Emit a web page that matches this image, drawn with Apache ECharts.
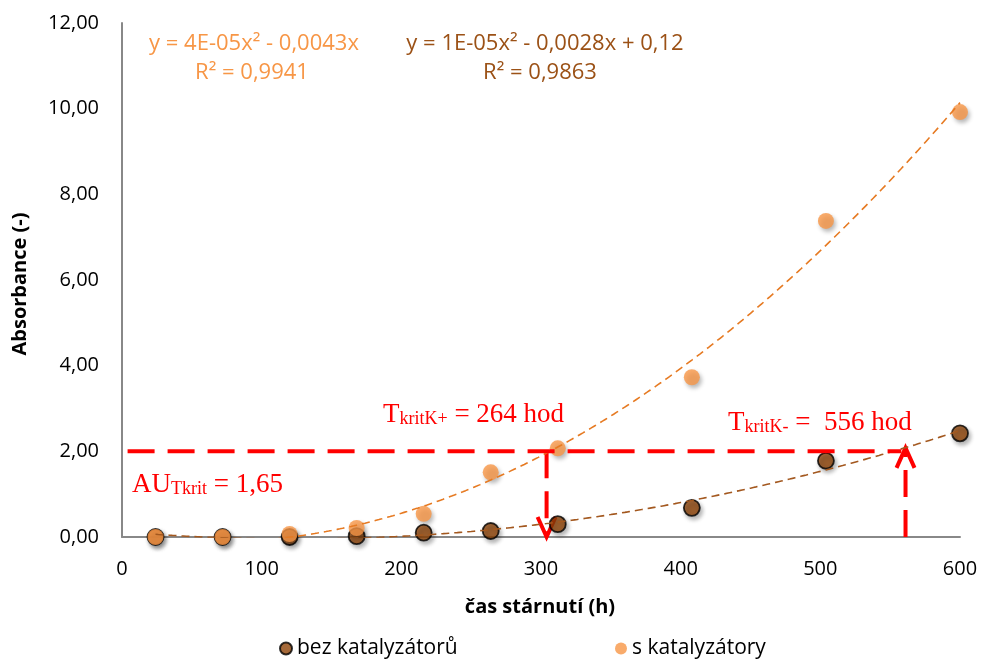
<!DOCTYPE html>
<html>
<head>
<meta charset="utf-8">
<script src="https://cdn.jsdelivr.net/npm/echarts@6/dist/echarts.min.js"></script>
<style>
html, body { margin: 0; padding: 0; background: #ffffff; }
#chart { width: 981px; height: 664px; }
</style>
</head>
<body>
<div id="chart"></div>
<script>
// Ageing time (h) at which absorbance was measured
const hours = [24, 72, 120, 168, 216, 264, 312, 408, 504, 600];
// Absorbance without catalysts
const absWithout = [0, 0, 0, 0.02, 0.10, 0.14, 0.30, 0.68, 1.78, 2.42];
// Absorbance with catalysts
const absWith = [0, 0, 0.07, 0.21, 0.54, 1.51, 2.07, 3.73, 7.38, 9.92];

const seriesNames = ['bez katalyzátorů', 's katalyzátory'];
const xTickRange = [0, 600, 100];
const yTickRange = [0, 12, 2];

// Critical absorbance guide: level, start of the guide line (h),
// and the ageing times marked by the arrows (h)
const criticalLevel = 2.0;
const criticalLineStart = 4;
const criticalLineEnd = 558;
const arrowTimeWith = 304;
const arrowTimeWithout = 561;

const eqWith = ['y = 4E-05x² - 0,0043x', 'R² = 0,9941'];
const eqWithout = ['y = 1E-05x² - 0,0028x + 0,12', 'R² = 0,9863'];

// ---- least-squares polynomial trendlines ----
function solve(A, b) {
  const n = b.length;
  const M = A.map((row, i) => row.concat([b[i]]));
  for (let c = 0; c < n; c++) {
    let p = c;
    for (let r = c + 1; r < n; r++) if (Math.abs(M[r][c]) > Math.abs(M[p][c])) p = r;
    [M[c], M[p]] = [M[p], M[c]];
    for (let r = 0; r < n; r++) {
      if (r === c) continue;
      const f = M[r][c] / M[c][c];
      for (let k = c; k <= n; k++) M[r][k] -= f * M[c][k];
    }
  }
  return M.map((row, i) => row[n] / row[i]);
}
// returns [a, b, c] for y = a x^2 + b x + c
function fitQuadratic(xs, ys, withIntercept) {
  const powers = withIntercept ? [2, 1, 0] : [2, 1];
  const A = powers.map(p => powers.map(q => xs.reduce((s, x) => s + Math.pow(x, p + q), 0)));
  const b = powers.map(p => xs.reduce((s, x, i) => s + Math.pow(x, p) * ys[i], 0));
  const sol = solve(A, b);
  return withIntercept ? sol : [sol[0], sol[1], 0];
}
const fitWith = fitQuadratic(hours, absWith, false);
const fitWithout = fitQuadratic(hours, absWithout, true);
const polyAt = (c, x) => c[0] * x * x + c[1] * x + c[2];
function curve(c) {
  const pts = [];
  for (let x = hours[0]; x <= hours[hours.length - 1]; x += 2) pts.push([x, polyAt(c, x)]);
  return pts;
}

const fmt = v => v.toFixed(2).replace('.', ',');
const RED = '#FF0000';
const DARK = '#8E4308';
const LIGHT = '#F79646';

function renderArrow(params, api) {
  const p0 = api.coord([api.value(0), api.value(1)]);
  const p1 = api.coord([api.value(0), api.value(2)]);
  const dir = p1[1] > p0[1] ? 1 : -1;
  const base = { stroke: RED, lineWidth: 4, fill: null };
  return {
    type: 'group',
    children: [
      { type: 'line', shape: { x1: p0[0], y1: p0[1], x2: p1[0], y2: p1[1] },
        style: Object.assign({}, base, { lineDash: [27, 13] }) },
      { type: 'polyline',
        shape: { points: [[p1[0] - 9, p1[1] - dir * 20], [p1[0], p1[1]], [p1[0] + 9, p1[1] - dir * 20]] },
        style: base }
    ]
  };
}

const markerShadow = { shadowBlur: 4, shadowOffsetX: 2, shadowOffsetY: 3, shadowColor: 'rgba(0,0,0,0.35)' };
const axisLabelFont = { fontFamily: 'Open Sans', fontSize: 20, color: '#000' };
const serifRich = {
  m: { fontFamily: 'Liberation Serif', fontSize: 27, lineHeight: 31, verticalAlign: 'bottom', fill: RED, color: RED },
  s: { fontFamily: 'Liberation Serif', fontSize: 18, lineHeight: 18, verticalAlign: 'bottom', fill: RED, color: RED }
};
const eqFont = { fontFamily: 'Open Sans', fontSize: 22, align: 'center', verticalAlign: 'middle' };
const titleFont = { fontFamily: 'Open Sans', fontWeight: 'bold', fontSize: 20, fill: '#000', align: 'center', verticalAlign: 'middle' };
const legendText = { fontFamily: 'Open Sans', fontSize: 21, color: '#000' };

const chart = echarts.init(document.getElementById('chart'), null, { renderer: 'canvas' });
chart.setOption({
  animation: false,
  backgroundColor: '#ffffff',
  grid: { left: 122, right: 21, top: 23, bottom: 127 },
  xAxis: {
    type: 'value', min: xTickRange[0], max: xTickRange[1], interval: xTickRange[2],
    axisLine: { show: true, lineStyle: { color: '#888888', width: 2 } },
    axisTick: { show: false }, splitLine: { show: false },
    axisLabel: Object.assign({ margin: 22 }, axisLabelFont)
  },
  yAxis: {
    type: 'value', min: yTickRange[0], max: yTickRange[1], interval: yTickRange[2],
    axisLine: { show: true, lineStyle: { color: '#888888', width: 2 } },
    axisTick: { show: false }, splitLine: { show: false },
    axisLabel: Object.assign({ margin: 23, formatter: fmt }, axisLabelFont)
  },
  legend: [
    { data: [seriesNames[0]], left: 279, top: 638, itemWidth: 12, itemHeight: 12, padding: 0, textStyle: legendText },
    { data: [seriesNames[1]], left: 615, top: 638, itemWidth: 12, itemHeight: 12, padding: 0, textStyle: legendText }
  ],
  series: [
    { name: seriesNames[0], type: 'scatter', symbol: 'circle', symbolSize: 16,
      data: hours.map((h, i) => [h, absWithout[i]]),
      itemStyle: Object.assign({ color: DARK, borderColor: '#000', borderWidth: 1.8 }, markerShadow) },
    { name: seriesNames[1], type: 'scatter', symbol: 'circle', symbolSize: 16,
      data: hours.map((h, i) => [h, absWith[i]]),
      itemStyle: Object.assign({ color: LIGHT }, markerShadow) },
    { type: 'line', data: curve(fitWithout), showSymbol: false, symbol: 'none', clip: true,
      lineStyle: { color: '#A3581F', width: 1.6, type: [8, 5] } },
    { type: 'line', data: curve(fitWith), showSymbol: false, symbol: 'none', clip: true,
      lineStyle: { color: '#E67A22', width: 1.6, type: [8, 5] } },
    { type: 'line', data: [[criticalLineStart, criticalLevel], [criticalLineEnd, criticalLevel]],
      symbol: 'none', lineStyle: { color: RED, width: 4, type: [27, 13] } },
    { type: 'custom', renderItem: renderArrow, clip: false,
      data: [[arrowTimeWith, criticalLevel, 0], [arrowTimeWithout, 0, criticalLevel + 0.08]] }
  ],
  graphic: [
    { type: 'text', x: 254, y: 44, style: Object.assign({ text: eqWith[0], fill: LIGHT }, eqFont) },
    { type: 'text', x: 252, y: 73, style: Object.assign({ text: eqWith[1], fill: LIGHT }, eqFont) },
    { type: 'text', x: 545, y: 44, style: Object.assign({ text: eqWithout[0], fill: '#9B5116' }, eqFont) },
    { type: 'text', x: 540, y: 73, style: Object.assign({ text: eqWithout[1], fill: '#9B5116' }, eqFont) },
    { type: 'text', x: 20, y: 284, rotation: Math.PI / 2, style: Object.assign({ text: 'Absorbance (-)' }, titleFont) },
    { type: 'text', x: 540, y: 607, style: Object.assign({ text: 'čas stárnutí (h)' }, titleFont) },
    { type: 'text', x: 383, y: 397, style: { text: '{m|T}{s|kritK+}{m| = 264 hod}', rich: serifRich } },
    { type: 'text', x: 728, y: 405, style: { text: '{m|T}{s|kritK-}{m| =  556 hod}', rich: serifRich } },
    { type: 'text', x: 132, y: 467, style: { text: '{m|AU}{s|Tkrit}{m| = 1,65}', rich: serifRich } }
  ]
});
</script>
</body>
</html>
